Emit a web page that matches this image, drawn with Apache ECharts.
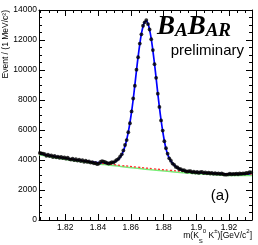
<!DOCTYPE html>
<html><head><meta charset="utf-8">
<script src="https://cdn.jsdelivr.net/npm/echarts@6/dist/echarts.min.js"></script>
<style>html,body{margin:0;padding:0;background:#fff}#c{width:258px;height:245px}</style>
</head><body><div id="c"></div>
<script>
// histogram: 1 MeV bins starting at 1.804 GeV
const binLow = 1.804, binWidth = 0.001;
const counts = [
 4470,4440,4420,4390,4280,4350,4260,4310,4200,4270,
 4180,4230,4150,4210,4130,4170,4090,4150,4060,4030,
 4090,3990,4050,3960,4030,3930,3990,3880,3950,3870,
 3900,3830,3850,3780,3800,3720,3760,3880,3930,3890,
 3850,3800,3760,3800,3850,3830,3920,4010,4080,4230,
 4380,4640,5000,5330,5850,6450,7240,8100,8950,10020,
 10850,11760,12380,12950,13180,13330,13060,12700,12050,11330,
 10390,9480,8420,7540,6640,5960,5250,4790,4420,4110,
 3950,3760,3680,3540,3500,3400,3390,3310,3320,3250,
 3220,3260,3250,3180,3220,3160,3200,3140,3190,3210,
 3130,3170,3110,3150,3100,3140,3080,3120,3070,3110,
 3060,3100,3050,3020,3030,3040,3090,3040,3080,3050,
 3090,3050,3100,3070,3110,3090,3140,3120,3190,3170];
const fitTotal = [
 4410,4391,4372,4353,4334,4315,4296,4277,4258,4239,
 4220,4203,4186,4169,4152,4135,4118,4101,4084,4067,
 4050,4034,4018,4002,3986,3970,3955,3940,3925,3910,
 3895,3881,3867,3853,3839,3830,3819,3808,3799,3791,
 3788,3792,3801,3815,3835,3865,3907,3969,4051,4180,
 4360,4600,4930,5350,5870,6490,7210,8050,8989,9967,
 10885,11704,12403,12902,13201,13280,13079,12678,12077,11296,
 10415,9445,8445,7505,6665,5925,5285,4755,4400,4120,
 3930,3780,3660,3560,3480,3420,3370,3330,3296,3268,
 3245,3228,3215,3204,3194,3185,3173,3166,3159,3152,
 3145,3139,3133,3127,3121,3115,3110,3105,3100,3095,
 3090,3087,3084,3081,3078,3075,3072,3069,3066,3063,
 3060,3060,3060,3060,3060,3062,3064,3066,3068,3070];
const bgMass  = [1.804,1.814,1.824,1.834,1.844,1.854,1.864,1.874,1.884,1.894,1.904,1.914,1.924,1.934];
const bgTotal = [4420,4225,4055,3900,3762,3640,3522,3412,3313,3222,3150,3092,3062,3070];
const bgComb  = [4350,4155,3985,3830,3692,3568,3448,3335,3232,3138,3060,2998,2962,2960];
const xTickLabels = [1.82,1.84,1.86,1.88,1.9,1.92];
const yTickLabels = [0,2000,4000,6000,8000,10000,12000,14000];

const xMin = 1.804, xMax = 1.934;
const centers = counts.map((_, i) => +(binLow + binWidth * (i + 0.5)).toFixed(4));
const minorX = [];
for (let v = 1.805; v < xMax; v += 0.005) minorX.push(+v.toFixed(3));

const FONT = 'Liberation Sans, Arial, sans-serif';
const chart = echarts.init(document.getElementById('c'), null, {renderer: 'canvas'});

function xAx(pos, vals, len, showLine, showLabel) {
  return {
    type: 'value', position: pos, min: xMin, max: xMax,
    axisLine: {show: showLine, onZero: false, lineStyle: {color: '#000', width: 1}},
    axisTick: {show: true, inside: true, length: len, customValues: vals, lineStyle: {color: '#000', width: 1}},
    axisLabel: {show: showLabel, customValues: xTickLabels, fontSize: 8.5, color: '#000', fontFamily: FONT, margin: 3},
    splitLine: {show: false}
  };
}
function yAx(pos, showLabel) {
  return {
    type: 'value', position: pos, min: 0, max: 14000, interval: 2000,
    axisLine: {show: true, onZero: false, lineStyle: {color: '#000', width: 1}},
    axisTick: {show: true, inside: true, length: 6, lineStyle: {color: '#000'}},
    minorTick: {show: true, splitNumber: 4, length: 3, lineStyle: {color: '#000'}},
    axisLabel: {show: showLabel, fontSize: 8.5, color: '#000', fontFamily: FONT, margin: 2,
      formatter: v => yTickLabels.includes(v) ? String(v) : ''},
    splitLine: {show: false}
  };
}

chart.setOption({
  animation: false,
  backgroundColor: '#fff',
  grid: {left: 39, top: 10, right: 6, bottom: 25},
  xAxis: [
    xAx('bottom', xTickLabels, 6, true, true),
    xAx('bottom', minorX, 3, false, false),
    xAx('top', xTickLabels, 6, true, false),
    xAx('top', minorX, 3, false, false)
  ],
  yAxis: [yAx('left', true), yAx('right', false)],
  series: [
    {type: 'line', name: 'comb', z: 2, smooth: true, showSymbol: false, silent: true,
     data: bgMass.map((m, k) => [m, bgComb[k]]),
     lineStyle: {color: '#77ee77', width: 1.5}},
    {type: 'line', name: 'fit', z: 3, smooth: true, showSymbol: false, silent: true,
     data: centers.map((m, k) => [m, fitTotal[k]]),
     lineStyle: {color: '#0000ff', width: 1.7}},
    {type: 'line', name: 'bkg', z: 4, smooth: true, showSymbol: false, silent: true,
     data: bgMass.map((m, k) => [m, bgTotal[k]]),
     lineStyle: {color: '#ff3030', width: 1.3, type: [2, 2]}},
    {type: 'scatter', name: 'data', z: 5, symbol: 'circle', symbolSize: 3.8,
     data: centers.map((m, k) => [m, counts[k]]),
     itemStyle: {color: '#000'}}
  ],
  graphic: [
    {type: 'text', x: 6, y: 10, rotation: Math.PI / 2, z: 10,
     style: {text: 'Event / (1 MeV/c²)', fontSize: 8.5, fontFamily: FONT, fill: '#000',
       align: 'right', verticalAlign: 'middle'}},
    {type: 'text', x: 252, y: 236, z: 10,
     style: {text: '{n|m(K}{sub|S}{sup|0}{n| K}{sup|±}{n|)[GeV/c}{sup|2}{n|]}',
       align: 'right', verticalAlign: 'middle', fill: '#000',
       rich: {
         n: {fontSize: 8.5, fontFamily: FONT, lineHeight: 16, verticalAlign: 'middle'},
         sup: {fontSize: 6, fontFamily: FONT, verticalAlign: 'top'},
         sub: {fontSize: 6, fontFamily: FONT, verticalAlign: 'bottom'}
       }}},
    {type: 'text', x: 157, y: 14, z: 10,
     style: {text: '{b|B}{s|A}{b|B}{s|AR}', align: 'left', verticalAlign: 'top', fill: '#000',
       rich: {
         b: {fontSize: 27, fontFamily: 'Liberation Serif, serif', fontStyle: 'italic', fontWeight: 'bold', lineHeight: 27, verticalAlign: 'bottom'},
         s: {fontSize: 19, fontFamily: 'Liberation Serif, serif', fontStyle: 'italic', fontWeight: 'bold', lineHeight: 21.6, verticalAlign: 'bottom'}
       }}},
    {type: 'text', x: 244, y: 50.8, z: 10,
     style: {text: 'preliminary', fontSize: 15, fontFamily: FONT, fill: '#000', align: 'right', verticalAlign: 'middle'}},
    {type: 'text', x: 220, y: 195.5, z: 10,
     style: {text: '(a)', fontSize: 15, fontFamily: FONT, fill: '#000', align: 'center', verticalAlign: 'middle'}}
  ]
});
</script></body></html>
